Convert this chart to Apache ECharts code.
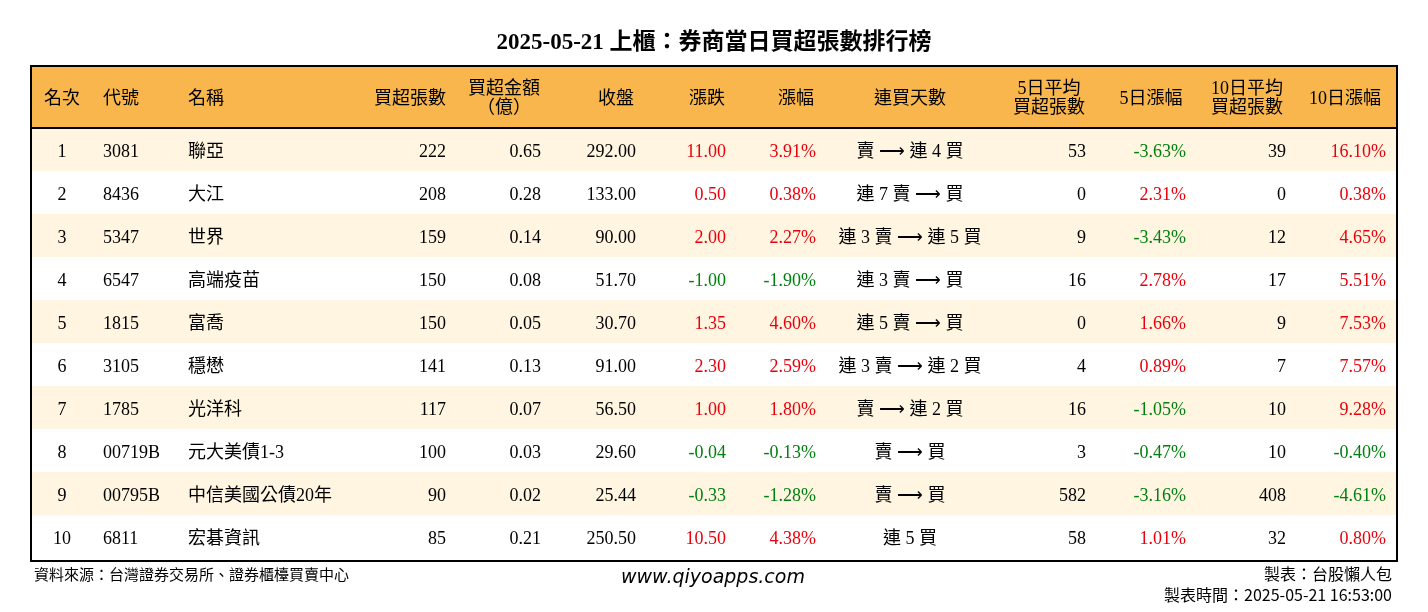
<!DOCTYPE html><html><head><meta charset="utf-8">
<script src="https://cdn.jsdelivr.net/npm/echarts@6/dist/echarts.min.js"></script>
<style>html,body{margin:0;padding:0;background:#fff}#c{width:1428px;height:612px}</style></head><body><div id="c"></div>
<script>
const title = '2025-05-21 上櫃：券商當日買超張數排行榜';
const headers = ['名次','代號','名稱','買超張數','買超金額\n（億）','收盤','漲跌','漲幅','連買天數','5日平均\n買超張數','5日漲幅','10日平均\n買超張數','10日漲幅'];
const ranks = ['1','2','3','4','5','6','7','8','9','10'];
const codes = ['3081','8436','5347','6547','1815','3105','1785','00719B','00795B','6811'];
const names = ['聯亞','大江','世界','高端疫苗','富喬','穩懋','光洋科','元大美債1-3','中信美國公債20年','宏碁資訊'];
const buyLots = [222,208,159,150,150,141,117,100,90,85];
const buyAmt = ['0.65','0.28','0.14','0.08','0.05','0.13','0.07','0.03','0.02','0.21'];
const closes = ['292.00','133.00','90.00','51.70','30.70','91.00','56.50','29.60','25.44','250.50'];
const changes = ['11.00','0.50','2.00','-1.00','1.35','2.30','1.00','-0.04','-0.33','10.50'];
const pct = ['3.91%','0.38%','2.27%','-1.90%','4.60%','2.59%','1.80%','-0.13%','-1.28%','4.38%'];
const streak = ['賣 ⟶ 連 4 買','連 7 賣 ⟶ 買','連 3 賣 ⟶ 連 5 買','連 3 賣 ⟶ 買','連 5 賣 ⟶ 買','連 3 賣 ⟶ 連 2 買','賣 ⟶ 連 2 買','賣 ⟶ 買','賣 ⟶ 買','連 5 買'];
const avg5 = [53,0,9,16,0,4,16,3,582,58];
const pct5 = ['-3.63%','2.31%','-3.43%','2.78%','1.66%','0.89%','-1.05%','-0.47%','-3.16%','1.01%'];
const avg10 = [39,0,12,17,9,7,10,10,408,32];
const pct10 = ['16.10%','0.38%','4.65%','5.51%','7.53%','7.57%','9.28%','-0.40%','-4.61%','0.80%'];

const colX = [62,103,188,446,541,636,726,816,910,1086,1186,1286,1386];
const colAlign = ['center','left','left','right','right','right','right','right','center','right','right','right','right'];
const hdrX = [62,103,188,446,504,616,707,796,910,1049,1151,1247,1345];
const hdrAlign = ['center','left','left','right','center','center','center','center','center','center','center','center','center'];
const colored = [false,false,false,false,false,false,true,true,false,false,true,false,true];
const HDR = 62, ROW = 43;
const FONT = '"Liberation Serif","Noto Sans CJK TC",serif';
const RED = '#E8000B', GREEN = '#00800F';

const cells = [];
for (let c = 0; c < headers.length; c++) cells.push([c, -1, headers[c]]);
const cols = [ranks,codes,names,buyLots,buyAmt,closes,changes,pct,streak,avg5,pct5,avg10,pct10];
for (let r = 0; r < 10; r++) for (let c = 0; c < cols.length; c++) cells.push([c, r, String(cols[c][r])]);

const chart = echarts.init(document.getElementById('c'));
chart.setOption({
  animation:false,
  title:{text:title,left:'center',top:27,textStyle:{fontFamily:FONT,fontSize:23,fontWeight:'bold',color:'#000'}},
  grid:{left:0,right:0,top:66,bottom:51},
  xAxis:{type:'value',min:0,max:1428,show:false},
  yAxis:{type:'value',min:0,max:HDR+10*ROW+3,inverse:true,show:false},
  graphic:[
    {type:'text',left:34,top:567,style:{text:'資料來源：台灣證券交易所、證券櫃檯買賣中心',font:'15px "Noto Sans CJK TC"',fill:'#000'}},
    {type:'text',left:621,top:569,style:{text:'www.qiyoapps.com',font:'italic 19px "DejaVu Sans"',fill:'#000'}},
    {type:'text',right:36,top:566,style:{text:'製表：台股懶人包',font:'16px "Noto Sans CJK TC"',fill:'#000'}},
    {type:'text',right:36,top:587,style:{text:'製表時間：2025-05-21 16:53:00',font:'16px "Noto Sans CJK TC"',fill:'#000'}}
  ],
  series:[
    {type:'custom',data:[-1,0,1,2,3,4,5,6,7,8,9].map(r=>[r]),z:1,
     renderItem:(p,api)=>{
       const r = api.value(0);
       const y0 = r<0?0:HDR+r*ROW, y1 = r<0?HDR:HDR+(r+1)*ROW;
       const a = api.coord([31,y0]), b = api.coord([1397,y1]);
       const fill = r<0?'#F8B64C':(r%2===0?'#FFF5E1':'#FFFFFF');
       return {type:'rect',shape:{x:a[0],y:a[1],width:b[0]-a[0],height:b[1]-a[1]},style:{fill}};
     }},
    {type:'custom',data:cells,z:2,
     renderItem:(p,api)=>{
       const c = api.value(0), r = api.value(1), t = cells[p.dataIndex][2];
       const isH = r<0;
       const yc = isH?HDR/2+2:HDR+r*ROW+ROW/2+3;
       const pt = api.coord([isH?hdrX[c]:colX[c], yc]);
       let fill = '#000';
       if (!isH && colored[c]) fill = t.startsWith('-')?GREEN:RED;
       return {type:'text',x:pt[0],y:pt[1],style:{text:t,fill,align:isH?hdrAlign[c]:colAlign[c],verticalAlign:'middle',
         font:(isH?'18px ':'18px ')+FONT,lineHeight:isH?19:20}};
     }},
    {type:'custom',data:[[0]],z:3,
     renderItem:(p,api)=>{
       const a = api.coord([31,0]), b = api.coord([1397,HDR+10*ROW+3]), h = api.coord([31,HDR]);
       return {type:'group',children:[
         {type:'rect',shape:{x:a[0],y:a[1],width:b[0]-a[0],height:b[1]-a[1]},style:{fill:'none',stroke:'#000',lineWidth:2}},
         {type:'line',shape:{x1:a[0],y1:h[1],x2:b[0],y2:h[1]},style:{stroke:'#000',lineWidth:2}}
       ]};
     }}
  ]
});
</script></body></html>
